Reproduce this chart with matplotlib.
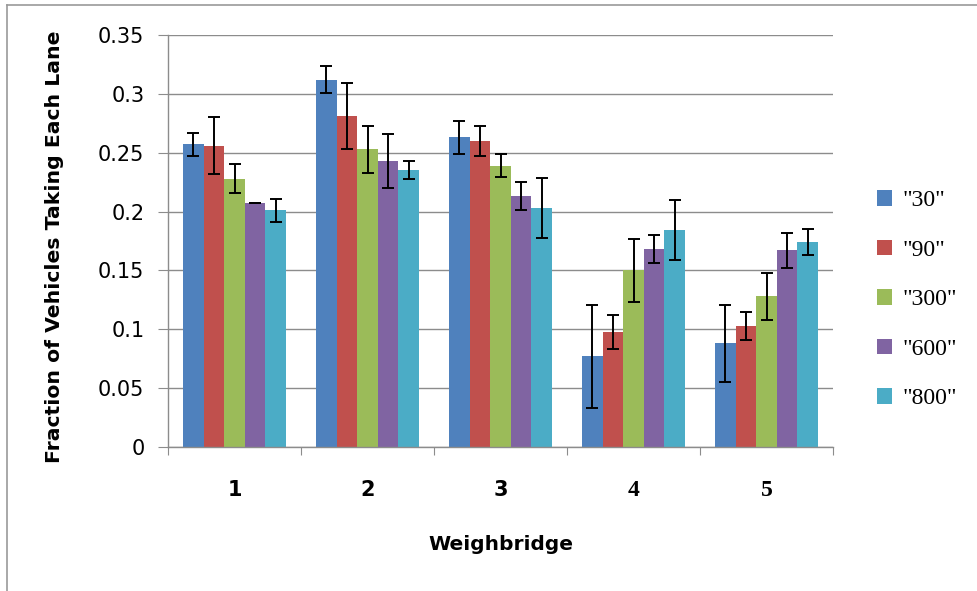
import matplotlib
matplotlib.use("Agg")
import matplotlib.pyplot as plt
from matplotlib.lines import Line2D
import numpy as np

weighbridges = ["1", "2", "3", "4", "5"]
series = ['"30"', '"90"', '"300"', '"600"', '"800"']
colors = ["#4F81BD", "#C0504D", "#9BBB59", "#8064A2", "#4BACC6"]

# fraction per weighbridge, one list per series
s30 = [0.257, 0.312, 0.263, 0.077, 0.088]
s90 = [0.256, 0.281, 0.260, 0.098, 0.103]
s300 = [0.228, 0.253, 0.239, 0.150, 0.128]
s600 = [0.207, 0.243, 0.213, 0.168, 0.167]
s800 = [0.201, 0.235, 0.203, 0.184, 0.174]

# error bar half widths
e30 = [0.010, 0.0115, 0.014, 0.0435, 0.033]
e90 = [0.024, 0.028, 0.013, 0.0145, 0.012]
e300 = [0.012, 0.020, 0.0095, 0.0265, 0.020]
e600 = [0.0, 0.023, 0.012, 0.012, 0.015]
e800 = [0.0098, 0.0077, 0.0257, 0.0255, 0.011]

values = [s30, s90, s300, s600, s800]
errors = [e30, e90, e300, e600, e800]

fig = plt.figure(figsize=(9.78, 5.91), dpi=100)
ax = fig.add_axes([0.1718, 0.2437, 0.680, 0.6971])

x = np.arange(1, len(weighbridges) + 1)
w = 0.155
for i in range(len(series)):
    ax.bar(x + (i - 2) * w, values[i], w, color=colors[i], label=series[i], zorder=2,
           yerr=errors[i], error_kw=dict(ecolor="black", elinewidth=1.4, capsize=4.5, capthick=1.4))

ax.set_ylim(0, 0.35)
ax.set_xlim(0.5, 5.5)
ax.set_yticks(np.arange(0, 0.351, 0.05))
ax.set_yticklabels(["0", "0.05", "0.1", "0.15", "0.2", "0.25", "0.3", "0.35"], fontsize=15)
ax.yaxis.grid(True, color="#8c8c8c", linewidth=1.0, zorder=0)
ax.set_axisbelow(True)

ax.set_xticks(np.arange(0.5, 5.6, 1.0))
ax.set_xticklabels([])
ax.set_xticks(x, minor=True)
ax.set_xticklabels(weighbridges, minor=True, fontsize=15, fontweight="bold")
for lbl in ax.get_xticklabels(minor=True)[3:]:
    lbl.set_family(["Liberation Serif"])
    lbl.set_fontsize(17)
ax.tick_params(axis="x", which="minor", length=0, pad=24)
ax.tick_params(axis="x", which="major", length=6, color="#8c8c8c", direction="out")
ax.tick_params(axis="y", length=7, color="#8c8c8c", direction="out", pad=10)

for s in ["top", "right"]:
    ax.spines[s].set_visible(False)
for s in ["left", "bottom"]:
    ax.spines[s].set_color("#8c8c8c")
    ax.spines[s].set_linewidth(1.0)

ax.set_ylabel("Fraction of Vehicles Taking Each Lane", fontsize=14.7, fontweight="bold")
ax.yaxis.set_label_coords(-0.157, 0.487)
ax.set_xlabel("Weighbridge", fontsize=14.5, fontweight="bold", labelpad=24)

leg = fig.legend(loc="center left", frameon=False,
                 prop={"family": ["Liberation Serif"], "size": 17},
                 handlelength=0.65, handleheight=0.65, handletextpad=0.45, labelspacing=1.2,
                 borderaxespad=0)
leg.set_bbox_to_anchor((0.887, 0.493), transform=fig.transFigure)

# chart area border (top and left)
fig.add_artist(Line2D([0.007, 1.0], [0.991, 0.991], color="#999999", linewidth=1.2, transform=fig.transFigure))
fig.add_artist(Line2D([0.007, 0.007], [0.0, 0.991], color="#999999", linewidth=1.2, transform=fig.transFigure))

fig.savefig("out.png", dpi=100)
